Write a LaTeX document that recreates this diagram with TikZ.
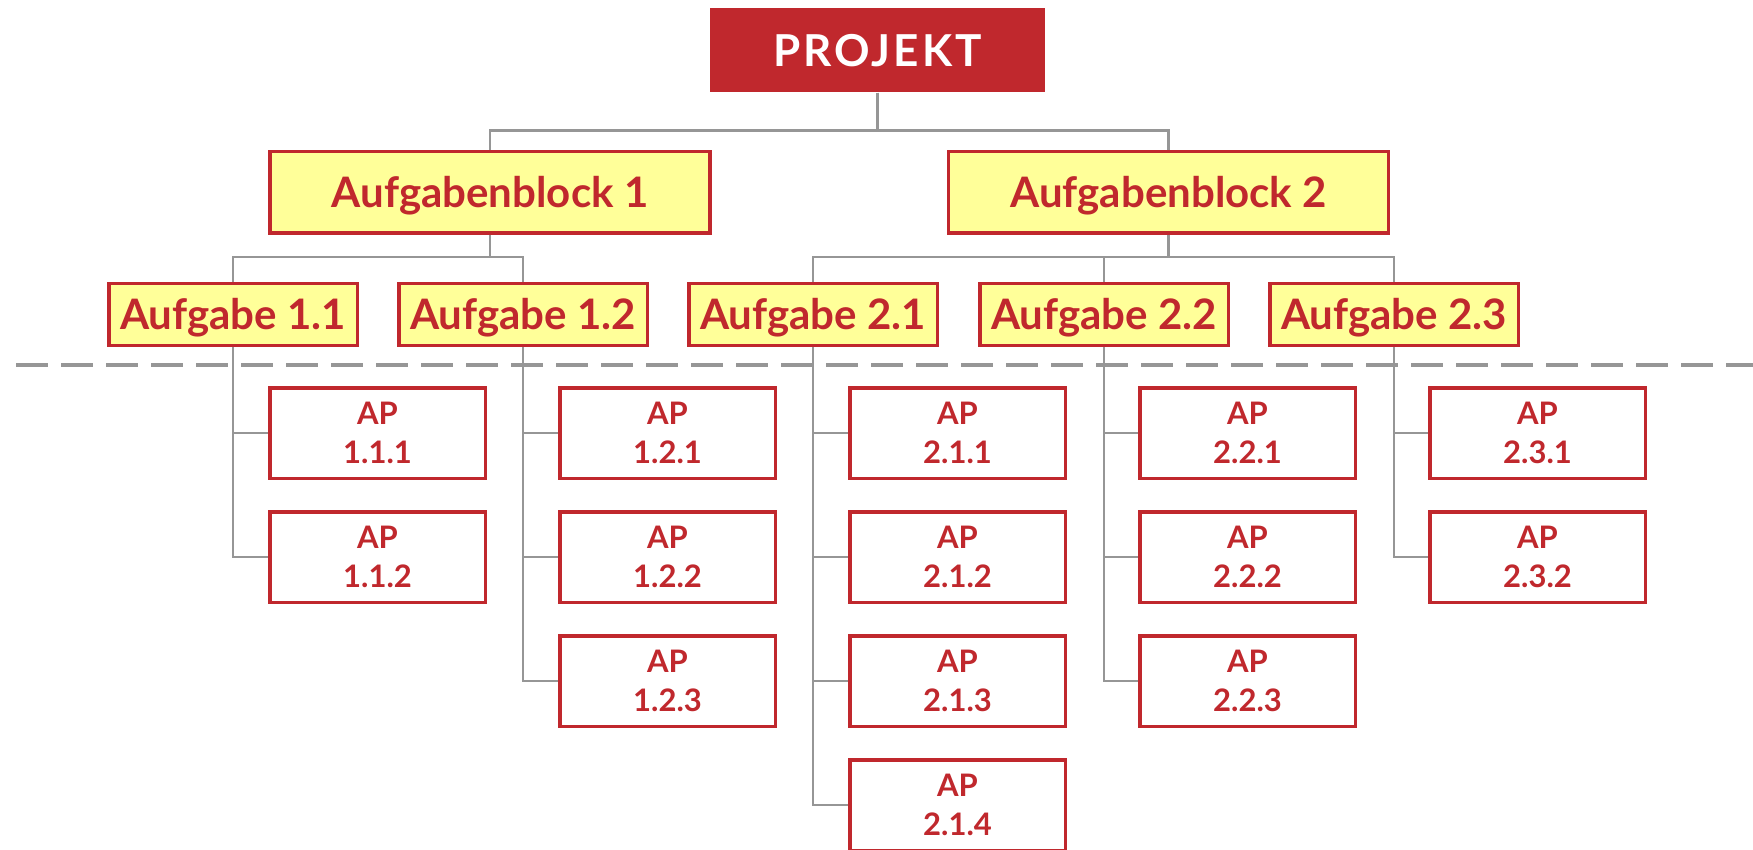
\documentclass[tikz,border=0pt]{standalone}
\usepackage{fontspec}
\setmainfont{Lato}
\definecolor{pred}{RGB}{192,40,45}
\definecolor{pyel}{RGB}{255,255,153}
\definecolor{pgray}{RGB}{150,150,150}
\begin{document}
\begin{tikzpicture}[x=1pt,y=-1pt,
  box/.style={rectangle, draw=pred, line width=3.5pt, text=pred, inner sep=0pt, align=center},
  bigtext/.style={font=\bfseries\fontsize{42}{46}\selectfont, text height=30pt, text depth=0pt},
  topbox/.style={rectangle, fill=pred, text=white, inner sep=0pt, minimum width=335pt, minimum height=84pt,
    font=\bfseries\fontsize{44}{48}\selectfont\addfontfeatures{LetterSpace=7}, text height=31.5pt, text depth=0pt},
  block/.style={box, bigtext, fill=pyel, minimum width=440pt, minimum height=81.5pt},
  task/.style={box, bigtext, fill=pyel, minimum width=248.5pt, minimum height=61.5pt},
  ap/.style={box, fill=white, minimum width=215.5pt, minimum height=90.5pt, font=\bfseries\fontsize{31}{39}\selectfont},
  conn/.style={draw=pgray, line width=2.4pt},
  sepline/.style={draw=pgray, line width=4pt, dash pattern=on 32pt off 13pt}
]
\useasboundingbox (0,0) rectangle (1753,850);
\clip (0,0) rectangle (1753,850);

% separator
\coordinate (dL) at (16,364.5);
\coordinate (dR) at (1760,364.5);
\draw[sepline] (dL) -- (dR);

% nodes
\node[topbox] (P) at (877.5,50.5) {PROJEKT};
\node[block] (B1) at (490,192.5) {Aufgabenblock 1};
\node[block] (B2) at (1168.5,192.5) {Aufgabenblock 2};

\node[task] (A11) at (233,314.5) {Aufgabe 1.1};
\node[task] (A12) at (523,314.5) {Aufgabe 1.2};
\node[task] (A21) at (813,314.5) {Aufgabe 2.1};
\node[task] (A22) at (1104,314.5) {Aufgabe 2.2};
\node[task] (A23) at (1394,314.5) {Aufgabe 2.3};

\node[ap] (P111) at (377.5,433) {AP\\1.1.1};
\node[ap] (P112) at (377.5,557) {AP\\1.1.2};

\node[ap] (P121) at (667.5,433) {AP\\1.2.1};
\node[ap] (P122) at (667.5,557) {AP\\1.2.2};
\node[ap] (P123) at (667.5,681) {AP\\1.2.3};

\node[ap] (P211) at (957.5,433) {AP\\2.1.1};
\node[ap] (P212) at (957.5,557) {AP\\2.1.2};
\node[ap] (P213) at (957.5,681) {AP\\2.1.3};
\node[ap] (P214) at (957.5,805) {AP\\2.1.4};

\node[ap] (P221) at (1247.5,433) {AP\\2.2.1};
\node[ap] (P222) at (1247.5,557) {AP\\2.2.2};
\node[ap] (P223) at (1247.5,681) {AP\\2.2.3};

\node[ap] (P231) at (1537.5,433) {AP\\2.3.1};
\node[ap] (P232) at (1537.5,557) {AP\\2.3.2};

% connectors
\draw[conn] (P.south) -- ++(0,38) -| (B1.north);
\draw[conn] (P.south) -- ++(0,38) -| (B2.north);

\draw[conn] (B1.south) -- ++(0,22) -| (A11.north);
\draw[conn] (B1.south) -- ++(0,22) -| (A12.north);
\draw[conn] (B2.south) -- ++(0,22) -| (A21.north);
\draw[conn] (B2.south) -- ++(0,22) -| (A22.north);
\draw[conn] (B2.south) -- ++(0,22) -| (A23.north);

\foreach \a/\b in {A11/P111,A11/P112,A12/P121,A12/P122,A12/P123,
  A21/P211,A21/P212,A21/P213,A21/P214,A22/P221,A22/P222,A22/P223,
  A23/P231,A23/P232}
  \draw[conn] (\a.south) |- (\b.west);
\end{tikzpicture}
\end{document}
